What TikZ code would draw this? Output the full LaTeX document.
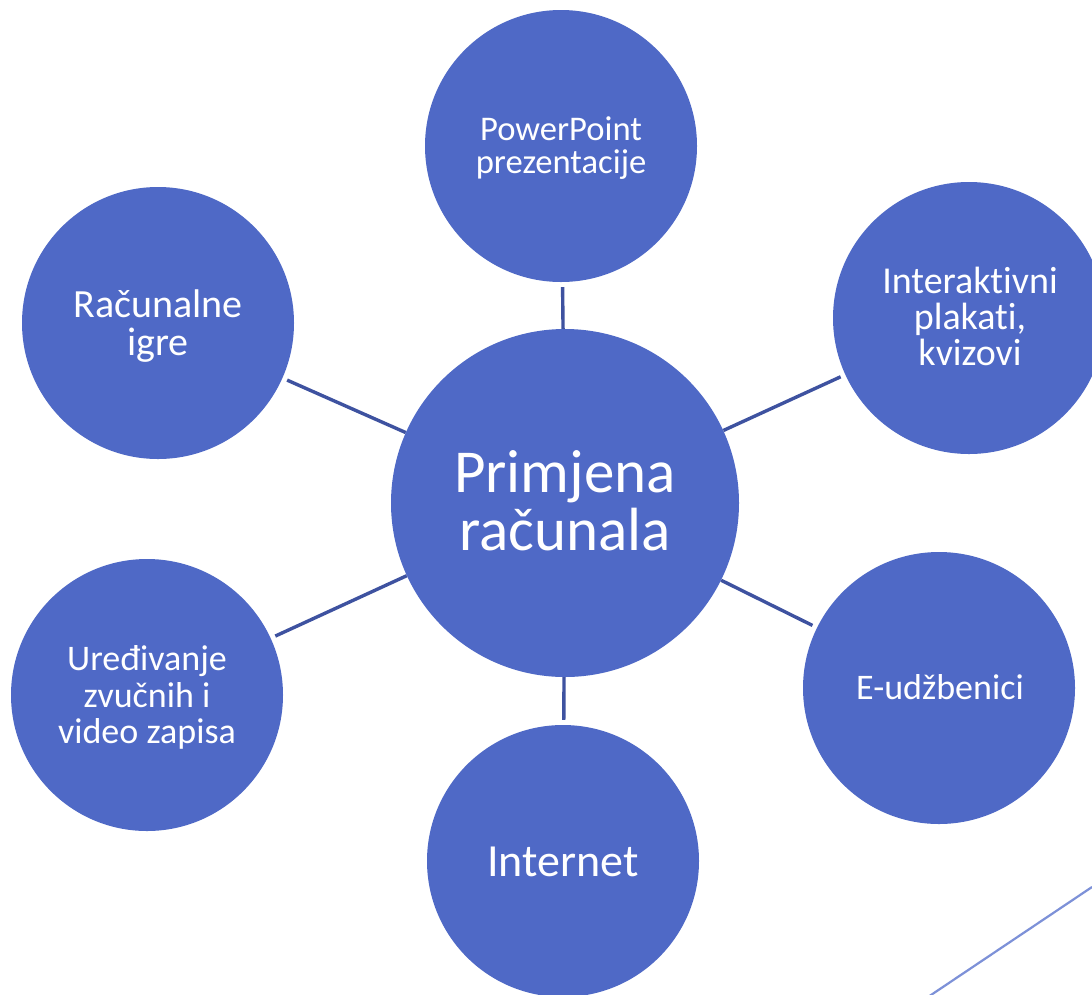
\documentclass[tikz,border=0pt]{standalone}
\usepackage{fontspec}
\setmainfont{Carlito}[Ligatures={NoCommon}]
\definecolor{bubble}{RGB}{79,105,198}
\definecolor{linkc}{RGB}{62,82,160}
\definecolor{decor}{RGB}{125,145,216}
\begin{document}
\begin{tikzpicture}[x=1pt,y=-1pt,
  bigc/.style={circle,fill=bubble,inner sep=0pt,minimum size=348pt},
  smallc/.style={circle,fill=bubble,inner sep=0pt,minimum size=272pt},
  lbl/.style={text=white,anchor=base,inner sep=0pt},
  link/.style={draw=linkc,line width=3.4pt,shorten >=5pt}]
\clip (0,0) rectangle (1092,994);
\fill[white] (0,0) rectangle (1092,994);
% circles
\node[bigc] (c) at (565,503) {};
\node[smallc] (top) at (561,146) {};
\node[smallc] (rt) at (969,318) {};
\node[smallc] (rb) at (939,688) {};
\node[smallc] (bot) at (563,861) {};
\node[smallc] (lb) at (147,695) {};
\node[smallc] (lt) at (158,323) {};
% connectors
\draw[link] (c) -- (top);
\draw[link] (c) -- (rt);
\draw[link] (c) -- (rb);
\draw[link] (c) -- (bot);
\draw[link] (c) -- (lb);
\draw[link] (c) -- (lt);
% decorative line
\coordinate (d1) at (1092,887);
\coordinate (d2) at (925,999);
\draw[decor,line width=2.2pt] (d1) -- (d2);
% labels
\node[lbl,font=\fontsize{61}{61}\selectfont] (c1) at (565,492) {Primjena};
\node[lbl,font=\fontsize{61}{61}\selectfont] (c2) at (565,550) {računala};
\node[lbl,font=\fontsize{34.6}{35}\selectfont] (t1) at (561,140) {PowerPoint};
\node[lbl,font=\fontsize{34.6}{35}\selectfont] (t2) at (561,173) {prezentacije};
\node[lbl,font=\fontsize{38}{38}\selectfont] (r1) at (970,293) {Interaktivni};
\node[lbl,font=\fontsize{38}{38}\selectfont] (r2) at (970,329) {plakati,};
\node[lbl,font=\fontsize{38}{38}\selectfont] (r3) at (970,365) {kvizovi};
\node[lbl,font=\fontsize{36}{36}\selectfont] (e1) at (940,699) {E-udžbenici};
\node[lbl,font=\fontsize{46}{46}\selectfont] (i1) at (563,876) {Internet};
\node[lbl,font=\fontsize{36}{36}\selectfont] (u1) at (147,670) {Uređivanje};
\node[lbl,font=\fontsize{36}{36}\selectfont] (u2) at (147,707) {zvučnih i};
\node[lbl,font=\fontsize{36}{36}\selectfont] (u3) at (147,743) {video zapisa};
\node[lbl,font=\fontsize{40}{40}\selectfont] (g1) at (158,317) {Računalne};
\node[lbl,font=\fontsize{40}{40}\selectfont] (g2) at (158,355) {igre};
\end{tikzpicture}
\end{document}
